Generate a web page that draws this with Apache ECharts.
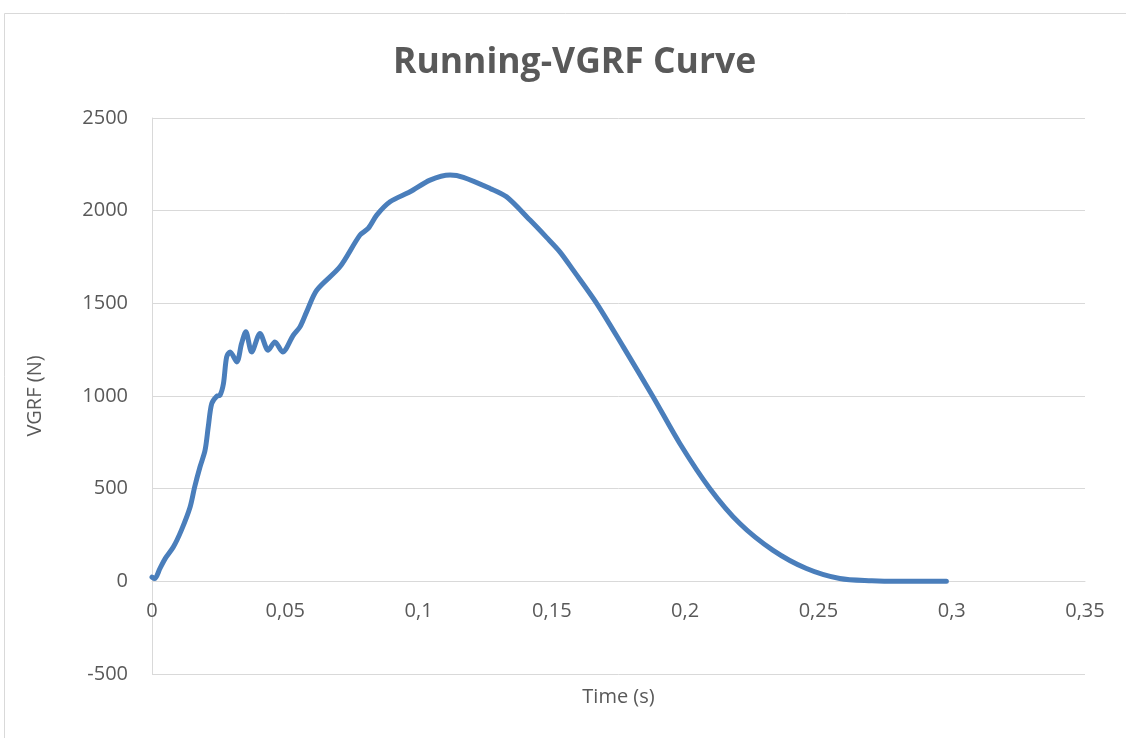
<!DOCTYPE html>
<html>
<head>
<meta charset="utf-8">
<script src="https://cdn.jsdelivr.net/npm/echarts@6/dist/echarts.min.js"></script>
<style>
  html, body { margin: 0; padding: 0; background: #fff; }
  #chart { width: 1126px; height: 738px; }
</style>
</head>
<body>
<div id="chart"></div>
<script>
// time (s) and vertical ground reaction force (N)
var timeS = [0, 0.001, 0.003, 0.005, 0.008, 0.011, 0.0143, 0.016, 0.018, 0.0199,
  0.0211, 0.0224, 0.0243, 0.0255, 0.0268, 0.028, 0.0293, 0.0318, 0.0336, 0.0352,
  0.0374, 0.0405, 0.0436, 0.0461, 0.049, 0.053, 0.0555, 0.058, 0.0618, 0.0705,
  0.078, 0.0811, 0.0843, 0.0893, 0.0968, 0.1043, 0.1118, 0.1168, 0.1268, 0.133,
  0.1418, 0.148, 0.153, 0.158, 0.1668, 0.1768, 0.188, 0.198, 0.2093, 0.2205,
  0.233, 0.2455, 0.258, 0.27, 0.28, 0.29, 0.298];
var vgrfN = [23, 15, 70, 124, 185, 275, 401, 509, 617, 707,
  833, 959, 999, 1004, 1067, 1211, 1238, 1184, 1283, 1346,
  1238, 1337, 1247, 1292, 1238, 1328, 1373, 1454, 1571, 1697,
  1868, 1904, 1976, 2048, 2102, 2165, 2192, 2180, 2120, 2075,
  1949, 1856, 1778, 1679, 1500, 1265, 995, 744, 500, 312,
  167, 69, 15, 3, 0, 0, 0];

var xTicks = { min: 0, max: 0.35, step: 0.05 };
var yTicks = { min: -500, max: 2500, step: 500 };

var grey = '#595959';
var font = 'Open Sans, Liberation Sans, sans-serif';

var myChart = echarts.init(document.getElementById('chart'));
myChart.setOption({
  animation: false,
  backgroundColor: '#fff',
  title: {
    text: 'Running-VGRF Curve',
    left: 388,
    top: 40,
    textStyle: { color: grey, fontSize: 35.5, fontWeight: 'bold', fontFamily: font }
  },
  graphic: [{
    type: 'rect',
    shape: { x: 4.5, y: 13.5, width: 1130, height: 740 },
    style: { fill: 'none', stroke: '#d9d9d9', lineWidth: 1 },
    silent: true
  }],
  grid: { left: 152, right: 41, top: 118, bottom: 64, outerBoundsMode: 'none' },
  xAxis: {
    type: 'value',
    position: 'bottom',
    min: xTicks.min, max: xTicks.max, interval: xTicks.step,
    name: 'Time (s)',
    nameLocation: 'middle',
    nameGap: 106,
    nameMoveOverlap: false,
    nameTextStyle: { color: grey, fontSize: 20, fontFamily: font },
    axisLine: { onZero: false, lineStyle: { color: '#d9d9d9', width: 1 } },
    axisTick: { show: false },
    splitLine: { show: false },
    axisLabel: {
      color: grey, fontSize: 20, fontFamily: font, margin: 20,
      formatter: function (v) { return String(+v.toFixed(2)).replace('.', ','); }
    }
  },
  yAxis: {
    type: 'value',
    min: yTicks.min, max: yTicks.max, interval: yTicks.step,
    name: 'VGRF (N)',
    nameLocation: 'middle',
    nameGap: 107,
    nameMoveOverlap: false,
    nameTextStyle: { color: grey, fontSize: 20, fontFamily: font },
    axisLine: { show: true, onZero: false, lineStyle: { color: '#d9d9d9', width: 1 } },
    axisTick: { show: false },
    splitLine: { show: true, lineStyle: { color: '#d9d9d9', width: 1 } },
    axisLabel: {
      color: grey, fontSize: 20, fontFamily: font, margin: 24,
      formatter: function (v) { return String(v); }
    }
  },
  series: [{
    type: 'line',
    data: timeS.map(function (t, i) { return [t, vgrfN[i]]; }),
    smooth: 0.3,
    showSymbol: false,
    lineStyle: { color: '#4a7ebb', width: 5, cap: 'round', join: 'round' }
  }]
});

// put the time axis on the zero force line (Excel style)
var zeroY = myChart.convertToPixel({ yAxisIndex: 0 }, 0);
var bottomY = myChart.convertToPixel({ yAxisIndex: 0 }, yTicks.min);
myChart.setOption({ xAxis: { offset: -(bottomY - zeroY) } });
</script>
</body>
</html>
